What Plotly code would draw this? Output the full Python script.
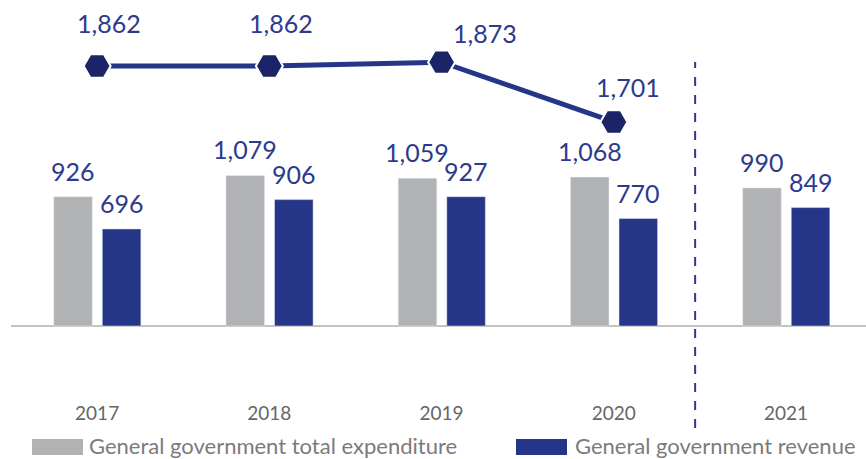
import plotly.graph_objects as go

# ---- data ----
years = ["2017", "2018", "2019", "2020", "2021"]
expenditure = [926, 1079, 1059, 1068, 990]
revenue = [696, 906, 927, 770, 849]
line_years = ["2017", "2018", "2019", "2020"]
line_values = [1862, 1862, 1873, 1701]
series_names = ["General government total expenditure", "General government revenue"]

# ---- style ----
GREY = "#b1b2b4"
BLUE = "#253689"
NAVY = "#1b2466"
LABEL = "#2c3a8e"
FONT = "Lato"
W, H = 866, 459
ML, MT, MB = 11, 0, 59
PLOT_H = H - MT - MB

x_idx = list(range(len(years)))
lx_idx = [years.index(y) for y in line_years]

BAR_W = 0.224
OFF_E, OFF_R = -0.252, 0.030

fig = go.Figure()
fig.add_trace(go.Bar(x=x_idx, y=expenditure, name=series_names[0], marker_color=GREY,
                     width=BAR_W, offset=OFF_E, showlegend=False))
fig.add_trace(go.Bar(x=x_idx, y=revenue, name=series_names[1], marker_color=BLUE,
                     width=BAR_W, offset=OFF_R, showlegend=False))
fig.add_trace(go.Scatter(x=lx_idx, y=line_values, yaxis="y2", mode="lines+markers",
                         line=dict(color=BLUE, width=5),
                         marker=dict(symbol="hexagon2", size=27, color=NAVY,
                                     line=dict(color="white", width=2)),
                         showlegend=False))

ann = []
for i, v in enumerate(expenditure):
    ann.append(dict(x=i + OFF_E + BAR_W / 2, y=v, xref="x", yref="y", text=f"{v:,}",
                    showarrow=False, yanchor="bottom", yshift=9,
                    font=dict(family=FONT, size=25, color=LABEL)))
for i, v in enumerate(revenue):
    ann.append(dict(x=i + OFF_R + BAR_W / 2, y=v, xref="x", yref="y", text=f"{v:,}",
                    showarrow=False, yanchor="bottom", yshift=9,
                    font=dict(family=FONT, size=25, color=LABEL)))
line_label_shift = [(12, 26), (12, 26), (43, 12), (14, 18)]
for xi, v, (dx, dy) in zip(lx_idx, line_values, line_label_shift):
    ann.append(dict(x=xi, y=v, xref="x", yref="y2", text=f"{v:,}", showarrow=False,
                    yanchor="bottom", xshift=dx, yshift=dy,
                    font=dict(family=FONT, size=25, color=LABEL)))


def px_x(p):
    return (p - ML) / (W - ML)


def px_y(p):
    return (MT + PLOT_H - p) / PLOT_H


# custom legend
legend_items = [(32, 83, 87, GREY), (516, 567, 573, BLUE)]
shapes = []
for (x0, x1, tx, col), name in zip(legend_items, series_names):
    shapes.append(dict(type="rect", xref="paper", yref="paper", x0=px_x(x0), x1=px_x(x1),
                       y0=px_y(455), y1=px_y(439), fillcolor=col, line=dict(width=0)))
    ann.append(dict(x=px_x(tx), y=px_y(445), xref="paper", yref="paper", text=name,
                    showarrow=False, xanchor="left", yanchor="middle",
                    font=dict(family=FONT, size=22, color="#7b7b7b")))

# forecast separator
shapes.append(dict(type="line", xref="x", yref="paper", x0=3.472, x1=3.472,
                   y0=px_y(428), y1=px_y(62), line=dict(color=LABEL, width=2, dash="dash")))

fig.update_layout(
    width=W, height=H,
    margin=dict(l=ML, r=0, t=MT, b=MB),
    plot_bgcolor="white", paper_bgcolor="white",
    xaxis=dict(range=[-0.5, 4.464], tickmode="array", tickvals=x_idx, ticktext=years,
               showgrid=False, zeroline=False, showline=False, ticks="",
               tickfont=dict(family=FONT, size=19, color="#666666")),
    yaxis=dict(range=[-530.5, 2337], showgrid=False, showticklabels=False,
               zeroline=True, zerolinecolor="#c3c3c3", zerolinewidth=2),
    yaxis2=dict(range=[901.7, 2051.7], overlaying="y", showgrid=False,
                showticklabels=False, zeroline=False),
    annotations=ann, shapes=shapes,
)

fig.write_html("out.html")
